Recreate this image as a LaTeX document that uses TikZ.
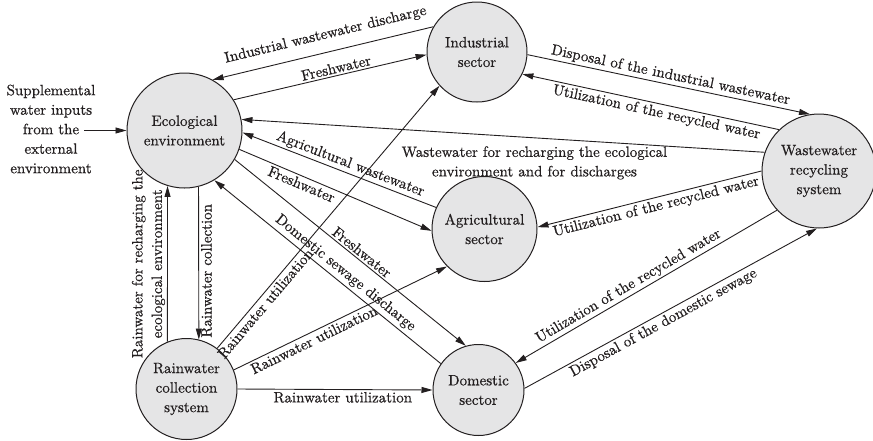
\documentclass[tikz,border=0pt]{standalone}
\usepackage{fontspec}
\usetikzlibrary{arrows.meta}

% slightly heavier Latin Modern for the diagram text
\newfontfamily\diagfont{lmroman10-regular.otf}[FakeBold=0.6]

\definecolor{sectorfill}{RGB}{229,229,230}
\definecolor{ink}{RGB}{35,31,32}
\newcommand{\lblfont}{\diagfont\fontsize{15.0}{19.5}\selectfont}

\begin{document}
\begin{tikzpicture}[x=1pt, y=-1pt,
  sector/.style={circle, draw=ink, line width=1pt, fill=sectorfill,
                 minimum size=#1, inner sep=0pt, align=center,
                 font=\lblfont, text=ink},
  flow/.style={draw=ink, line width=0.9pt,
               -{Triangle[length=11pt, width=6pt]}},
  lbl/.style={font=\lblfont, text=ink, inner sep=2pt}
]
\useasboundingbox (0,0) rectangle (873,440);

% sectors
\node[sector=115pt] (eco)  at (184.5,130.5) {Ecological\\environment};
\node[sector=100pt] (ind)  at (477,52)      {Industrial\\sector};
\node[sector=114pt] (ww)   at (819,171)     {Wastewater\\recycling\\system};
\node[sector=105pt] (agri) at (484.5,229)   {Agricultural\\sector};
\node[sector=91pt]  (dom)  at (478.5,390)   {Domestic\\sector};
\node[sector=101pt] (rain) at (186.5,389)   {Rainwater\\collection\\system};

% external input
\node[lbl, align=center] (supp) at (51,129)
  {Supplemental\\water inputs\\from the\\external\\environment};
\coordinate (suppend) at (84,130.5);
\draw[flow] (suppend) -- (eco.west);

% ecological environment <-> industrial sector
\draw[flow] (ind.150) -- node[lbl, sloped, above=8pt, pos=0.47]
  {Industrial wastewater discharge} (eco.61.5);
\draw[flow] (eco.32) -- node[lbl, sloped, above, pos=0.54]
  {Freshwater} (ind.183.5);

% wastewater recycling -> ecological environment
\draw[flow] (ww.161) -- node[lbl, below=6pt, pos=0.44, align=center]
  {Wastewater for recharging the ecological\\environment and for discharges} (eco.11.3);

% ecological environment <-> agricultural sector
\draw[flow] (agri.156) -- node[lbl, sloped, above, pos=0.46]
  {Agricultural wastewater} (eco.-2.5);
\draw[flow] (eco.-19.7) -- node[lbl, sloped, below, pos=0.34]
  {Freshwater} (agri.182);

% ecological environment <-> domestic sector
\draw[flow] (eco.-30.3) -- node[lbl, sloped, above, pos=0.53]
  {Freshwater} (dom.106.7);
\draw[flow] (dom.145) -- node[lbl, sloped, above=1pt, pos=0.45]
  {Domestic sewage discharge} (eco.-59.4);

% wastewater recycling system <-> sectors
\draw[flow] (ww.134) -- node[lbl, sloped, below, pos=0.47]
  {Utilization of the recycled water} (ind.-26.6);
\draw[flow] (ind.-3.4) -- node[lbl, sloped, above, pos=0.5]
  {Disposal of the industrial wastewater} (ww.99);
\draw[flow] (ww.180) -- node[lbl, sloped, below, pos=0.48]
  {Utilization of the recycled water} (agri.2);
\draw[flow] (ww.223) -- node[lbl, sloped, above, pos=0.55]
  {Utilization of the recycled water} (dom.36);
\draw[flow] (dom.2.6) -- node[lbl, sloped, below, pos=0.46]
  {Disposal of the domestic sewage} (ww.-92);

% rainwater collection system
\draw[flow] (rain.112.7) -- node[lbl, pos=0.5, rotate=90, anchor=south, align=center]
  {Rainwater for recharging the\\ecological environment} (eco.-107.7);
\draw[flow] (eco.-76.1) -- node[lbl, pos=0.55, rotate=90, anchor=north]
  {Rainwater collection} (rain.76.5);
\draw[flow] (rain.53.4) -- node[lbl, sloped, below, pos=0.19]
  {Rainwater utilization} (ind.222.7);
\draw[flow] (rain.22.2) -- node[lbl, sloped, below, pos=0.36]
  {Rainwater utilization} (agri.225.4);
\draw[flow] (rain.0) -- node[lbl, below, pos=0.54]
  {Rainwater utilization} (dom.180);
\end{tikzpicture}
\end{document}
